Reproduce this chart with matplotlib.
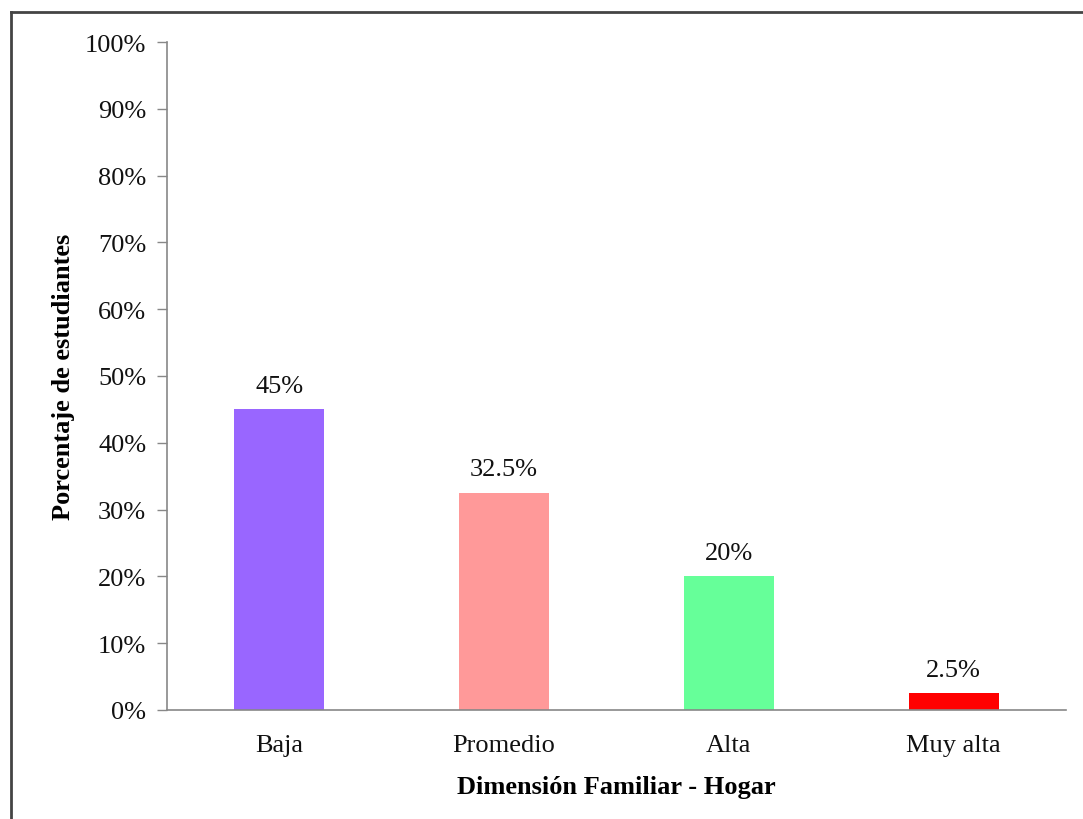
import matplotlib
matplotlib.use("Agg")
import matplotlib.pyplot as plt
from matplotlib.lines import Line2D
from matplotlib.ticker import FuncFormatter

categories = ["Baja", "Promedio", "Alta", "Muy alta"]
values = [45, 32.5, 20, 2.5]
labels = ["45%", "32.5%", "20%", "2.5%"]
colors = ["#9966FF", "#FF9999", "#66FF99", "#FF0000"]
yticks = list(range(0, 101, 10))

plt.rcParams['font.family'] = ['Liberation Serif', 'DejaVu Serif']

W, H = 1083, 820
fig = plt.figure(figsize=(W / 100, H / 100), dpi=100)
ax = fig.add_axes([167 / W, 1 - 711 / H, (1066 - 167) / W, (711 - 43) / H])

x = list(range(len(categories)))
ax.bar(x, values, width=0.4, color=colors, zorder=2)
for xi, v, lab in zip(x, values, labels):
    ax.annotate(lab, (xi, v), xytext=(0, 9), textcoords="offset points",
                ha="center", va="bottom", fontsize=19, color="#111111")

ax.set_xlim(-0.5, len(categories) - 0.5)
ax.set_ylim(0, 100)
ax.set_yticks(yticks)
ax.yaxis.set_major_formatter(FuncFormatter(lambda v, p: f"{int(v)}%"))
ax.set_xticks(x)
ax.set_xticklabels(categories)
ax.tick_params(axis="y", length=7, width=1, color="#888888", labelsize=19, pad=8,
               labelcolor="#111111")
ax.tick_params(axis="x", length=0, labelsize=19, pad=17, labelcolor="#111111")
for s in ["top", "right"]:
    ax.spines[s].set_visible(False)
for s in ["left", "bottom"]:
    ax.spines[s].set_color("#888888")
    ax.spines[s].set_linewidth(1.2)

ax.set_ylabel("Porcentaje de estudiantes", fontsize=19, fontweight="bold", labelpad=7)
ax.set_xlabel("Dimensión Familiar - Hogar", fontsize=19, fontweight="bold", labelpad=14)

# outer frame (left and top visible)
fig.add_artist(Line2D([10.5 / W, 10.5 / W], [0, 1 - 13 / H], transform=fig.transFigure,
                      color="#444444", linewidth=2))
fig.add_artist(Line2D([10.5 / W, 1], [1 - 13 / H, 1 - 13 / H], transform=fig.transFigure,
                      color="#444444", linewidth=2))

fig.savefig("out.png", dpi=100, facecolor="white")
